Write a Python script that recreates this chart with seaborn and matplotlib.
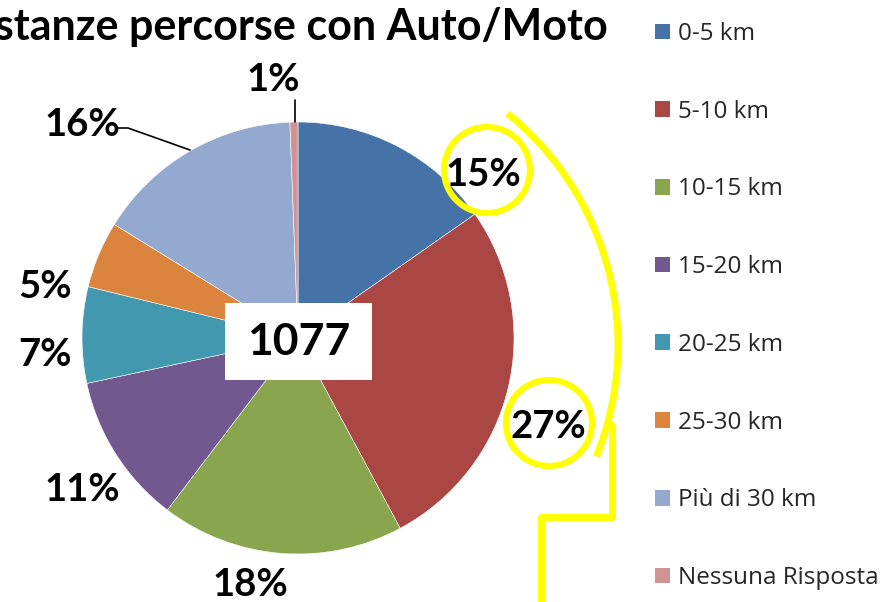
import matplotlib
matplotlib.use("Agg")
import matplotlib.pyplot as plt
from matplotlib.patches import Arc, Circle, Rectangle
import seaborn as sns

# data
categories = ["0-5 km", "5-10 km", "10-15 km", "15-20 km", "20-25 km",
              "25-30 km", "Più di 30 km", "Nessuna Risposta"]
percent = [15.3, 26.9, 18.2, 11.3, 7.2, 5.0, 15.6, 0.6]
total = 1077
title = "Distanze percorse con Auto/Moto"

colors = sns.color_palette(["#4572A7", "#AA4643", "#89A54E", "#71588F",
                            "#4198AF", "#DB843D", "#93A9CF", "#D19392"])

# label offsets in radius units (where the labels sit around the pie)
label_pos = [(0.856, 0.755), (1.157, -0.412), (-0.222, -1.144), (-1.0, -0.704),
             (-1.171, -0.079), (-1.171, 0.236), (-1.0, 0.986), (-0.116, 1.194)]

sns.set_theme(style="white")
plt.rcParams['font.family'] = ['Lato', 'DejaVu Sans']

W, H = 887, 602
fig = plt.figure(figsize=(W / 100, H / 100), dpi=100)

cx, cy, R = 298, 338, 216
ax = fig.add_axes([(cx - R) / W, (H - cy - R) / H, 2 * R / W, 2 * R / H])
wedges, _ = ax.pie(percent, colors=colors, startangle=90, counterclock=False,
                   radius=1, wedgeprops=dict(edgecolor="white", linewidth=0.4))
ax.set_xlim(-1, 1)
ax.set_ylim(-1, 1)
ax.axis("off")

for p, (lx, ly) in zip(percent, label_pos):
    ax.text(lx, ly, f"{round(p)}%", ha="center", va="center",
            fontsize=27.5, fontweight="bold", color="black", clip_on=False)

# overlay in pixel coords for annotations
ov = fig.add_axes([0, 0, 1, 1], zorder=5)
ov.set_xlim(0, W)
ov.set_ylim(H, 0)
ov.axis("off")
ov.patch.set_alpha(0)

# leader lines
ov.plot([118, 128, 190], [128, 128, 150], color="black", lw=1.2)
ov.plot([295, 295], [100, 122], color="black", lw=1.2)

# center box
ov.add_patch(Rectangle((225, 303), 147, 77, facecolor="white", edgecolor="none"))
ov.text(298.5, 342, str(total), ha="center", va="center", fontsize=32,
        fontweight="bold", color="black")

# title: the reference crops the left part of it at the image edge
ov.text(608, 27, title, ha="right", va="center", fontsize=31,
        fontweight="bold", color="black")

# yellow highlights
yel = "#FFFF00"
ov.add_patch(Circle((487, 170), 43, fill=False, edgecolor=yel, lw=4.5))
ov.add_patch(Circle((549, 423), 43, fill=False, edgecolor=yel, lw=4.5))
ov.add_patch(Arc((320, 345), 596, 596, theta1=-51, theta2=22,
                 edgecolor=yel, lw=5))
ov.plot([612, 612, 541, 541], [425, 517, 517, 605], color=yel, lw=5,
        solid_joinstyle="round")

# legend
handles = [Rectangle((0, 0), 1, 1, facecolor=c, edgecolor="none") for c in colors]
fig.legend(handles, categories, loc="upper left", bbox_to_anchor=(655 / W, 1 - 22 / H),
           frameon=False, prop={"family": "Open Sans", "size": 17.5},
           labelspacing=2.21, handlelength=0.62, handleheight=0.62,
           handletextpad=0.33, borderpad=0, borderaxespad=0)

fig.savefig("out.png", dpi=100)
